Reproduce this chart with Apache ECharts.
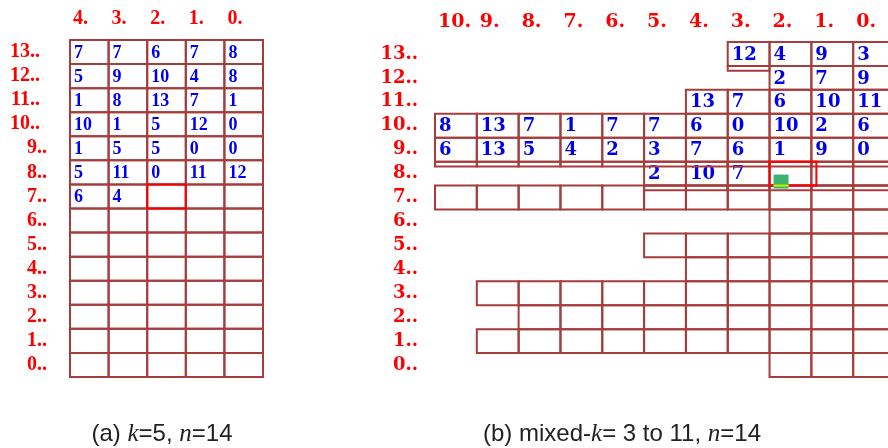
<!DOCTYPE html>
<html>
<head>
<meta charset="utf-8">
<script src="https://cdn.jsdelivr.net/npm/echarts@6/dist/echarts.min.js"></script>
<style>
html, body { margin: 0; padding: 0; background: #fff; }
#chart { width: 888px; height: 448px; }
</style>
</head>
<body>
<div id="chart"></div>
<script>
// row names, bottom (0) to top (13)
var rowNames = ['0', '1', '2', '3', '4', '5', '6', '7', '8', '9', '10', '11', '12', '13'];

// (a) k=5 : columns left to right, rows listed top (13) to bottom (0)
// number = digit shown, '' = empty cell, null = no cell
var colsA = ['4', '3', '2', '1', '0'];
var rowsA = [
    [7, 7, 6, 7, 8],
    [5, 9, 10, 4, 8],
    [1, 8, 13, 7, 1],
    [10, 1, 5, 12, 0],
    [1, 5, 5, 0, 0],
    [5, 11, 0, 11, 12],
    [6, 4, '', '', ''],
    ['', '', '', '', ''],
    ['', '', '', '', ''],
    ['', '', '', '', ''],
    ['', '', '', '', ''],
    ['', '', '', '', ''],
    ['', '', '', '', ''],
    ['', '', '', '', '']
];
var markA = [[2, 7]];   // [column position, row] of the red box

// (b) mixed-k = 3 to 11
var colsB = ['10', '9', '8', '7', '6', '5', '4', '3', '2', '1', '0'];
var rowsB = [
    [null, null, null, null, null, null, null, 12, 4, 9, 3],
    [null, null, null, null, null, null, null, null, 2, 7, 9],
    [null, null, null, null, null, null, 13, 7, 6, 10, 11],
    [8, 13, 7, 1, 7, 7, 6, 0, 10, 2, 6],
    [6, 13, 5, 4, 2, 3, 7, 6, 1, 9, 0],
    [null, null, null, null, null, 2, 10, 7, '', '', ''],
    ['', '', '', '', '', '', '', '', '', '', ''],
    [null, null, null, null, null, null, null, null, '', '', ''],
    [null, null, null, null, null, '', '', '', '', '', ''],
    [null, null, null, null, null, null, '', '', '', '', ''],
    [null, '', '', '', '', '', '', '', '', '', ''],
    [null, null, '', '', '', '', '', '', '', '', ''],
    [null, '', '', '', '', '', '', '', '', '', ''],
    [null, null, null, null, null, null, null, null, '', '', '']
];
// thin double-line strips under these cells [column position, row]
var stripsB = [
    [7, 13],
    [0, 9], [1, 9], [2, 9], [3, 9], [4, 9], [5, 9], [6, 9], [7, 9], [8, 9], [9, 9], [10, 9],
    [5, 8], [6, 8], [7, 8], [8, 8], [9, 8], [10, 8]
];
var markB = [[8, 8]];

var LINE = '#a63d3d';
var RED = '#ff0000';
var BLUE = '#0000ee';

function toCells(rows) {
    var out = [];
    for (var r = 0; r < rows.length; r++) {
        for (var c = 0; c < rows[r].length; c++) {
            if (rows[r][c] !== null) out.push([c, rows.length - 1 - r, rows[r][c]]);
        }
    }
    return out;
}
var cellsA = toCells(rowsA);
var cellsB = toCells(rowsB);

function cellBox(api) {
    var x0 = api.value(0), row = api.value(1);
    var p0 = api.coord([x0, row]);
    var p1 = api.coord([x0 + 1, row]);
    var h = api.size([1, 1])[1];
    return { x: p0[0], y: p0[1] - h / 2, w: p1[0] - p0[0], h: h, cy: p0[1] };
}

function cellRenderer(cells, font) {
    return function (params, api) {
        var b = cellBox(api);
        var v = cells[params.dataIndex][2];
        return {
            type: 'group',
            children: [
                { type: 'rect', shape: { x: b.x, y: b.y, width: b.w, height: b.h },
                  style: { fill: 'none', stroke: LINE, lineWidth: 2 } },
                { type: 'text', style: { x: b.x + 4, y: b.cy + 1, text: v === '' ? '' : String(v),
                  fill: BLUE, font: font, verticalAlign: 'middle' } }
            ]
        };
    };
}

function stripItem(params, api) {
    var b = cellBox(api);
    return { type: 'rect', shape: { x: b.x, y: b.y + b.h, width: b.w, height: b.h * 0.2 },
             style: { fill: 'none', stroke: LINE, lineWidth: 2 } };
}

function markRenderer(widen, withDot) {
    return function (params, api) {
        var b = cellBox(api);
        var kids = [{ type: 'rect', shape: { x: b.x, y: b.y, width: b.w * widen, height: b.h },
                      style: { fill: 'none', stroke: RED, lineWidth: 2 } }];
        if (withDot) {
            kids.push({ type: 'rect', shape: { x: b.x + 4, y: b.y + b.h - 11, width: 15, height: 14 },
                        style: { fill: '#3cb371' } });
            kids.push({ type: 'line', shape: { x1: b.x + 4, y1: b.y + b.h, x2: b.x + 19, y2: b.y + b.h },
                        style: { stroke: '#c6f000', lineWidth: 2 } });
        }
        return { type: 'group', children: kids };
    };
}

function colAxis(grid, names, font, margin) {
    return {
        gridIndex: grid, type: 'value', position: 'top', min: 0, max: names.length, interval: 1,
        axisLine: { show: false }, axisTick: { show: false }, splitLine: { show: false },
        axisLabel: {
            margin: margin, align: 'left', padding: [0, 0, 0, 3], color: RED,
            fontFamily: font.family, fontWeight: 'bold', fontSize: font.size,
            formatter: function (v) { return v < names.length ? names[v] + '.' : ''; }
        }
    };
}

function rowAxis(grid, font, margin, shortPad) {
    var st = { color: RED, fontFamily: font.family, fontWeight: 'bold', fontSize: font.size };
    return {
        gridIndex: grid, type: 'category', data: rowNames,
        axisLine: { show: false }, axisTick: { show: false }, splitLine: { show: false },
        axisLabel: {
            interval: 0, margin: margin, align: 'right', color: RED,
            fontFamily: font.family, fontWeight: 'bold', fontSize: font.size,
            formatter: function (v) { return v.length > 1 ? '{d|' + v + '..}' : '{s|' + v + '..}'; },
            rich: {
                d: Object.assign({ padding: [0, shortPad, 0, 0] }, st),
                s: st
            }
        }
    };
}

var serifA = { family: 'Liberation Serif', size: 20 };
var serifB = { family: 'DejaVu Serif', size: 18 };
var capRich = { i: { fontStyle: 'italic', fontFamily: 'Liberation Serif', fontSize: 25 } };

var chart = echarts.init(document.getElementById('chart'));
chart.setOption({
    animation: false,
    backgroundColor: '#fff',
    grid: [
        { left: 70, top: 40, width: 193, height: 337, outerBoundsMode: 'none' },
        { left: 435, top: 42, width: 460, height: 335, outerBoundsMode: 'none' }
    ],
    xAxis: [
        colAxis(0, colsA, serifA, 11),
        colAxis(1, colsB, { family: 'DejaVu Serif', size: 19 }, 10)
    ],
    yAxis: [
        rowAxis(0, serifA, 23, 7),
        rowAxis(1, serifB, 17, 0)
    ],
    series: [
        { type: 'custom', xAxisIndex: 0, yAxisIndex: 0, data: cellsA,
          renderItem: cellRenderer(cellsA, 'bold 18px "Liberation Serif"') },
        { type: 'custom', xAxisIndex: 0, yAxisIndex: 0, data: markA, z: 5,
          renderItem: markRenderer(1, false) },
        { type: 'custom', xAxisIndex: 1, yAxisIndex: 1, data: cellsB,
          renderItem: cellRenderer(cellsB, 'bold 18px "DejaVu Serif"') },
        { type: 'custom', xAxisIndex: 1, yAxisIndex: 1, data: stripsB,
          renderItem: stripItem },
        { type: 'custom', xAxisIndex: 1, yAxisIndex: 1, data: markB, z: 5,
          renderItem: markRenderer(1.12, true) }
    ],
    graphic: [
        { type: 'text', x: 162, y: 422, style: {
            text: '(a) {i|k}=5, {i|n}=14', fill: '#222', textAlign: 'center',
            font: '24px "Liberation Sans"', rich: capRich } },
        { type: 'text', x: 622, y: 422, style: {
            text: '(b) mixed-{i|k}= 3 to 11, {i|n}=14', fill: '#222', textAlign: 'center',
            font: '24px "Liberation Sans"', rich: capRich } }
    ]
});
</script>
</body>
</html>
